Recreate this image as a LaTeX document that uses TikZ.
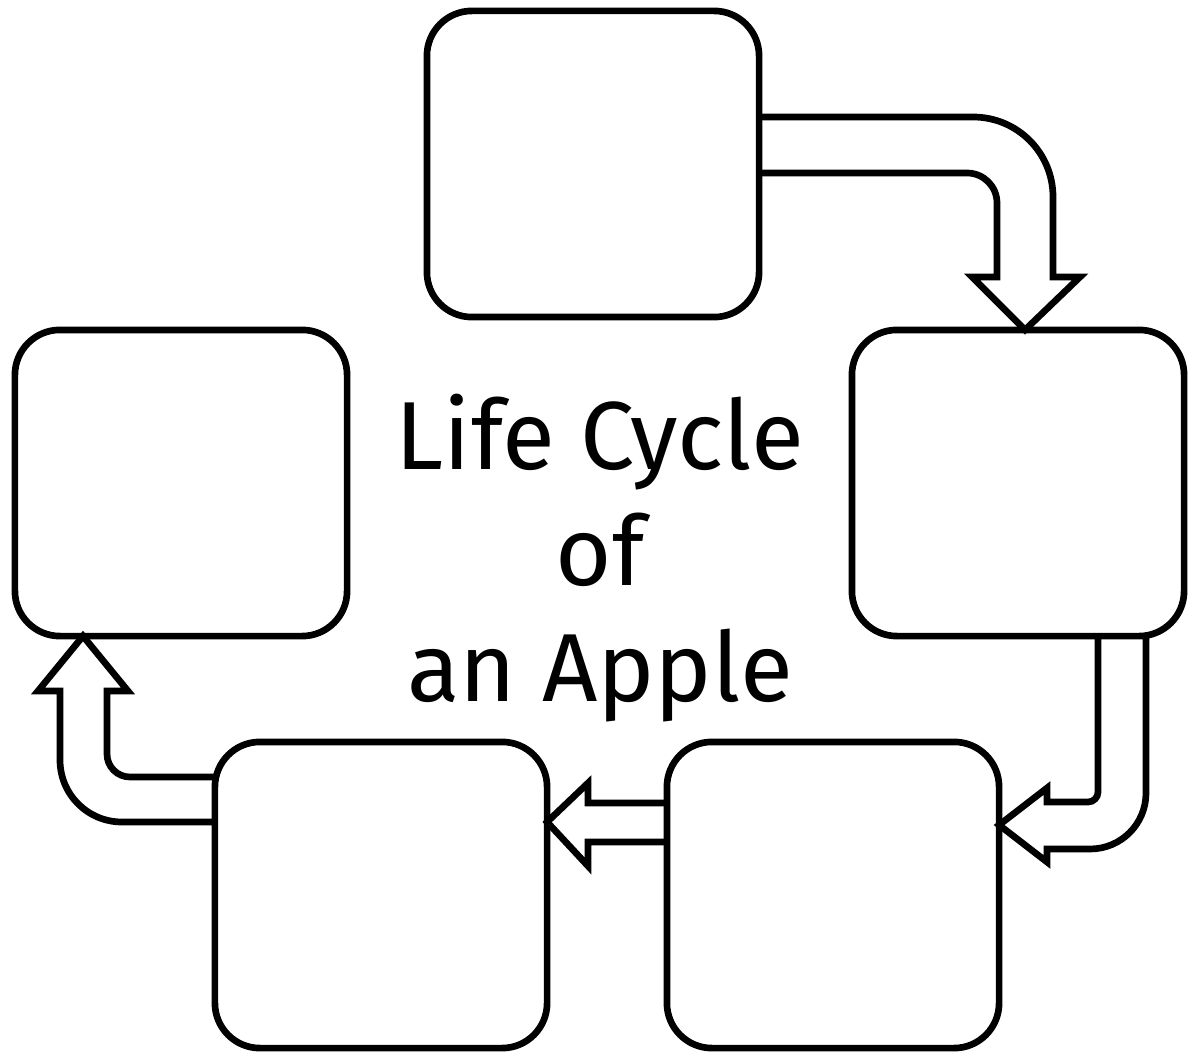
\documentclass[tikz,border=0pt]{standalone}
\usepackage{fontspec}
\setmainfont{Fira Sans}
\usetikzlibrary{positioning,calc}

\begin{document}
\begin{tikzpicture}[x=0.01cm,y=0.01cm, every node/.style={align=center}]
\tikzset{
  stage/.style={draw, line width=1.9pt, rounded corners=0.45cm, fill=white, outer sep=0pt, inner sep=0pt, minimum width=3.32cm, minimum height=3.06cm},
  bigarrow/.style={draw, line width=1.9pt, line join=miter}
}
  \useasboundingbox (0,0) rectangle (1188,-1055);

  \node[stage] (seed) at (593,-164) {};
  \node[stage] (sprout) at (1018,-483) {};
  \node[stage] (tree) at (833,-895) {};
  \node[stage] (blossom) at (381,-895) {};
  \node[stage] (apple) at (181,-483) {};

  \node[font=\fontsize{27.5}{33}\selectfont, inner sep=0pt] (title) at (600,-558)
    {Life Cycle\\of\\an Apple};

  \draw[bigarrow] ($(seed.east)+(0,47)$) -- (973,-117) to[out=0,in=90] (1053,-197) -- (1053,-277)
    -- (1080,-277) -- ($(sprout.north)+(7,0)$) -- (972,-277) -- (997,-277) -- (997,-203)
    to[out=90,in=0] (967,-173) -- ($(seed.east)+(0,-9)$);
  \draw[bigarrow] ($(sprout.south)+(80,0)$) -- (1098,-792) to[out=-90,in=0] (1088,-802) -- (1047,-802)
    -- (1047,-788) -- ($(tree.east)+(0,70)$) -- (1047,-862) -- (1047,-849) -- (1090,-849)
    to[out=0,in=-90] (1146,-793) -- ($(sprout.south)+(128,0)$);
  \draw[bigarrow] ($(tree.west)+(0,92)$) -- (588,-803) -- (588,-783) -- ($(blossom.east)+(0,73)$)
    -- (588,-866) -- (588,-842) -- ($(tree.west)+(0,53)$);
  \draw[bigarrow] ($(blossom.west)+(0,118)$) -- (130,-777) to[out=180,in=-90] (107,-754) -- (107,-691)
    -- (128,-691) -- ($(apple.south)+(-98,0)$) -- (38,-691) -- (60,-691) -- (60,-760)
    to[out=-90,in=180] (122,-822) -- ($(blossom.west)+(0,73)$);
\end{tikzpicture}
\end{document}
